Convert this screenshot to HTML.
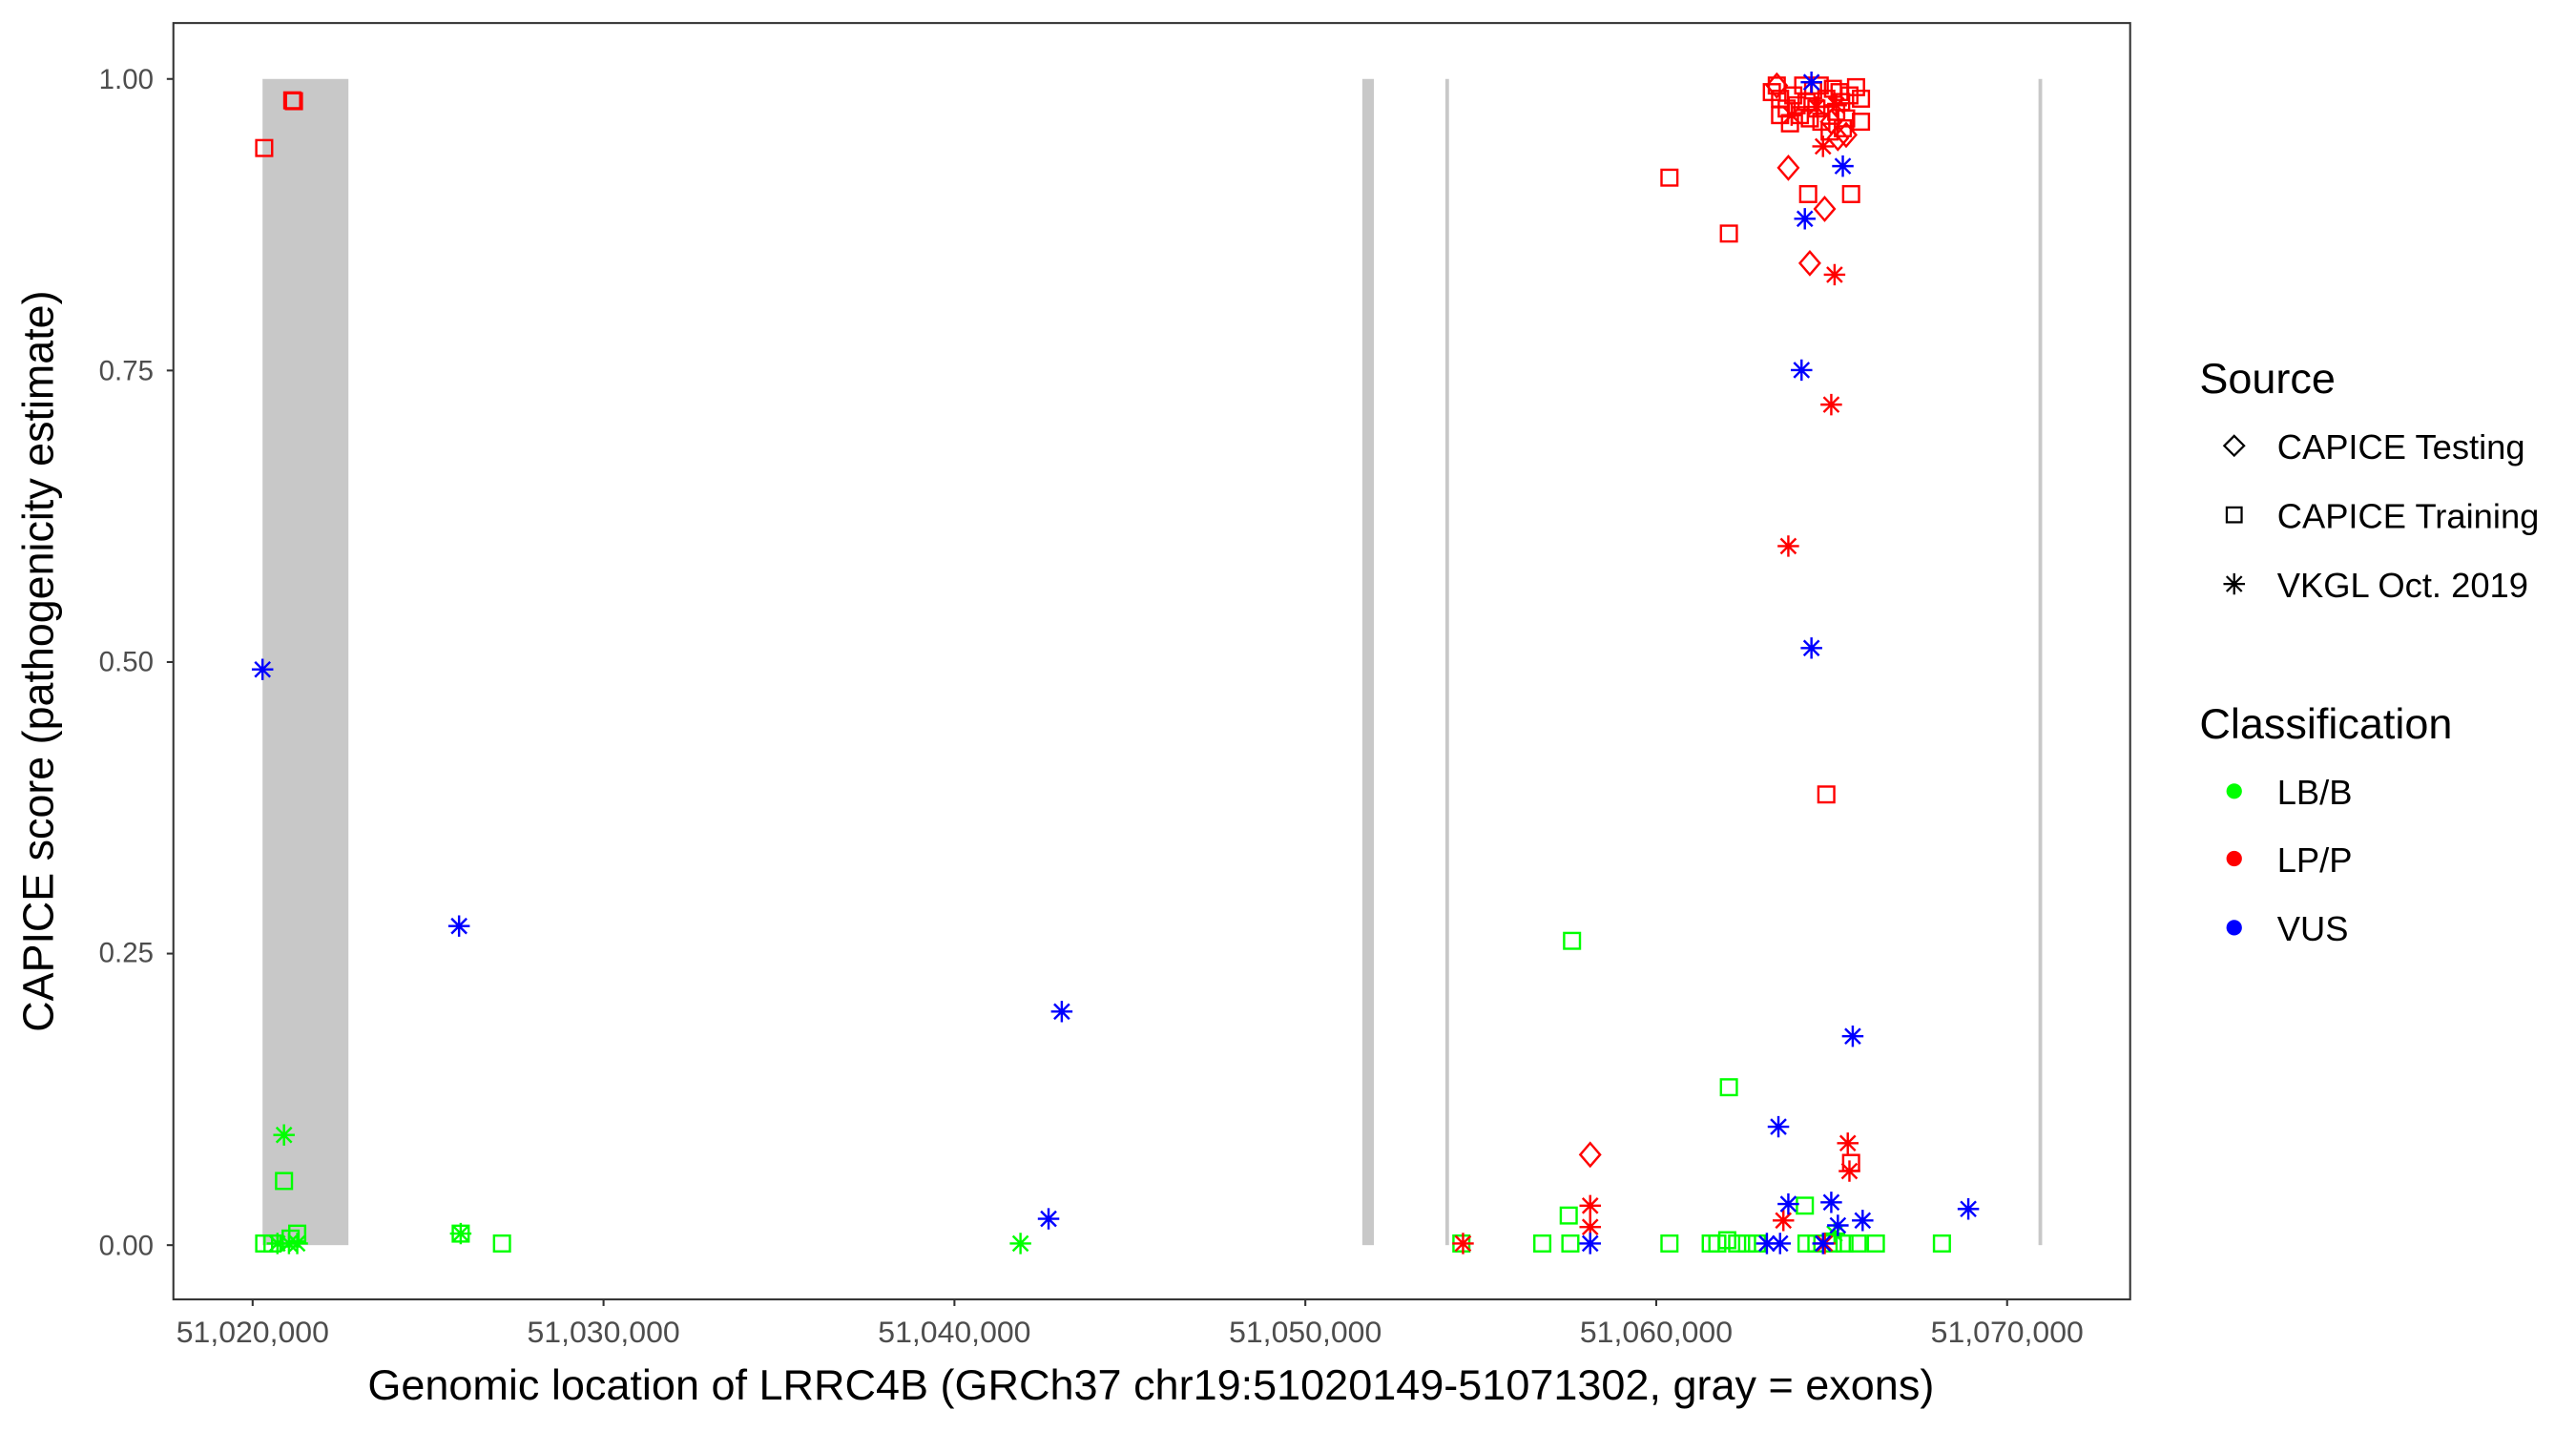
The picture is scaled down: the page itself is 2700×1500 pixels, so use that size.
<!DOCTYPE html>
<html><head><meta charset="utf-8"><style>
html,body{margin:0;padding:0;background:#fff;}
svg{display:block;}
text{font-family:"Liberation Sans",Arial,sans-serif;}
</style></head><body>
<svg width="2700" height="1500" viewBox="0 0 1560 870" preserveAspectRatio="none" xmlns="http://www.w3.org/2000/svg">
<defs>
<rect id="sq" x="-4.8" y="-4.8" width="9.6" height="9.6"/>
<path id="di" d="M0,-7 L6,0 L0,7 L-6,0Z"/>
<path id="as" d="M-6.5,0H6.5M0,-6.5V6.5M-4.6,-4.6L4.6,4.6M-4.6,4.6L4.6,-4.6"/>
</defs>
<rect x="0" y="0" width="1560" height="870" fill="#fff"/>
<rect x="159" y="48" width="52" height="709" fill="#c8c8c8"/>
<rect x="825" y="48" width="7" height="709" fill="#c8c8c8"/>
<rect x="875.3" y="48" width="2.2" height="709" fill="#c8c8c8"/>
<rect x="1234.5" y="48" width="2.2" height="709" fill="#c8c8c8"/>
<rect x="105" y="14" width="1185" height="776" fill="none" stroke="#333" stroke-width="1.2"/>
<g stroke="#333" stroke-width="1.2">
<line x1="101" y1="48" x2="105" y2="48"/><line x1="101" y1="225.25" x2="105" y2="225.25"/>
<line x1="101" y1="402.5" x2="105" y2="402.5"/><line x1="101" y1="579.75" x2="105" y2="579.75"/>
<line x1="101" y1="757" x2="105" y2="757"/>
<line x1="153" y1="790" x2="153" y2="794"/><line x1="365.5" y1="790" x2="365.5" y2="794"/>
<line x1="578" y1="790" x2="578" y2="794"/><line x1="790.5" y1="790" x2="790.5" y2="794"/>
<line x1="1003" y1="790" x2="1003" y2="794"/><line x1="1215.5" y1="790" x2="1215.5" y2="794"/>
</g>
<g fill="#4d4d4d" font-size="17" text-anchor="end">
<text x="93" y="54">1.00</text><text x="93" y="231">0.75</text><text x="93" y="408">0.50</text>
<text x="93" y="585">0.25</text><text x="93" y="763">0.00</text>
</g>
<g fill="#4d4d4d" font-size="18.5" text-anchor="middle">
<text x="153" y="816">51,020,000</text><text x="365.5" y="816">51,030,000</text>
<text x="578" y="816">51,040,000</text><text x="790.5" y="816">51,050,000</text>
<text x="1003" y="816">51,060,000</text><text x="1215.5" y="816">51,070,000</text>
</g>
<text x="697" y="851" font-size="26" text-anchor="middle" fill="#000">Genomic location of LRRC4B (GRCh37 chr19:51020149-51071302, gray = exons)</text>
<text transform="translate(32,402) rotate(-90)" font-size="26" text-anchor="middle" fill="#000">CAPICE score (pathogenicity estimate)</text>
<g fill="none" stroke-width="1.4">
<g stroke="#00ff00">
<use href="#sq" x="172" y="718"/><use href="#as" x="172" y="690"/>
<use href="#sq" x="160" y="756"/><use href="#sq" x="165" y="756"/><use href="#sq" x="176" y="753"/><use href="#sq" x="180" y="750"/>
<use href="#as" x="168" y="756"/><use href="#as" x="175" y="756"/><use href="#as" x="180" y="756"/>
<use href="#sq" x="279" y="750"/><use href="#as" x="279" y="750"/><use href="#sq" x="304" y="756"/>
<use href="#as" x="618" y="756"/>
<use href="#sq" x="952" y="572"/><use href="#sq" x="1047" y="661"/>
<use href="#sq" x="950" y="739"/><use href="#sq" x="1093" y="733"/>
<use href="#sq" x="885" y="756"/><use href="#sq" x="934" y="756"/><use href="#sq" x="951" y="756"/>
<use href="#sq" x="1011" y="756"/><use href="#sq" x="1036" y="756"/><use href="#sq" x="1040" y="756"/>
<use href="#sq" x="1046" y="754"/><use href="#sq" x="1052" y="756"/><use href="#sq" x="1058" y="756"/>
<use href="#sq" x="1064" y="756"/><use href="#sq" x="1094" y="756"/><use href="#sq" x="1100" y="756"/>
<use href="#sq" x="1110" y="756"/><use href="#sq" x="1117" y="756"/><use href="#sq" x="1125" y="756"/>
<use href="#sq" x="1136" y="756"/><use href="#sq" x="1176" y="756"/>
<use href="#as" x="1111" y="750"/>
</g>
<g stroke="#ff0000">
<use href="#sq" x="160" y="90"/><use href="#sq" x="177" y="61"/><use href="#sq" x="178" y="61.5"/>
<use href="#sq" x="1011" y="108"/><use href="#sq" x="1047" y="142"/><use href="#sq" x="1106" y="483"/>
<use href="#sq" x="1121" y="707"/>
<use href="#di" x="1083" y="102"/><use href="#di" x="1105" y="127"/><use href="#di" x="1096" y="160"/><use href="#di" x="963" y="702"/>
<use href="#as" x="1104" y="89"/><use href="#as" x="1111" y="167"/><use href="#as" x="1109" y="246"/><use href="#as" x="1083" y="332"/>
<use href="#as" x="1119" y="695"/><use href="#as" x="1120" y="712"/>
<use href="#as" x="963" y="733"/><use href="#as" x="963" y="746"/><use href="#as" x="886" y="756"/>
<use href="#as" x="1080" y="742"/><use href="#as" x="1105" y="756"/>
<use href="#sq" x="1076" y="52"/><use href="#sq" x="1078" y="60"/><use href="#sq" x="1082" y="66"/><use href="#sq" x="1086" y="58"/>
<use href="#sq" x="1090" y="70"/><use href="#sq" x="1094" y="62"/><use href="#sq" x="1098" y="55"/><use href="#sq" x="1100" y="66"/>
<use href="#sq" x="1103" y="74"/><use href="#sq" x="1106" y="60"/><use href="#sq" x="1110" y="54"/><use href="#sq" x="1112" y="68"/>
<use href="#sq" x="1115" y="62"/><use href="#sq" x="1118" y="72"/><use href="#sq" x="1120" y="58"/><use href="#sq" x="1124" y="53"/>
<use href="#sq" x="1127" y="60"/><use href="#sq" x="1127" y="74"/><use href="#sq" x="1084" y="75"/><use href="#sq" x="1092" y="52"/>
<use href="#sq" x="1108" y="80"/><use href="#sq" x="1095" y="118"/><use href="#sq" x="1121" y="118"/><use href="#sq" x="1073" y="56"/>
<use href="#sq" x="1078" y="70"/><use href="#sq" x="1102" y="52"/><use href="#sq" x="1114" y="56"/><use href="#sq" x="1116" y="78"/>
<use href="#sq" x="1088" y="64"/><use href="#sq" x="1096" y="72"/>
<use href="#di" x="1076" y="52"/><use href="#di" x="1113" y="84"/><use href="#di" x="1118" y="82"/><use href="#di" x="1109" y="74"/>
<use href="#as" x="1085" y="70"/><use href="#as" x="1100" y="65"/><use href="#as" x="1112" y="64"/>
</g>
<g stroke="#0000ff">
<use href="#as" x="159" y="407"/><use href="#as" x="278" y="563"/><use href="#as" x="643" y="615"/><use href="#as" x="635" y="741"/>
<use href="#as" x="1097" y="50"/><use href="#as" x="1116" y="101"/><use href="#as" x="1093" y="133"/><use href="#as" x="1091" y="225"/>
<use href="#as" x="1097" y="394"/><use href="#as" x="1077" y="685"/><use href="#as" x="1122" y="630"/><use href="#as" x="1192" y="735"/>
<use href="#as" x="1083" y="732"/><use href="#as" x="1109" y="731"/><use href="#as" x="1128" y="742"/><use href="#as" x="1113" y="745"/>
<use href="#as" x="1070" y="756"/><use href="#as" x="1078" y="756"/><use href="#as" x="1104" y="756"/><use href="#as" x="963" y="756"/>
</g>
</g>
<text x="1332" y="239" font-size="26" fill="#000">Source</text>
<g fill="none" stroke="#000" stroke-width="1.3">
<path d="M1353,265 L1359,271 L1353,277 L1347,271Z"/>
<rect x="1348.5" y="308.5" width="9" height="9"/>
<path d="M1346.5,355H1359.5M1353,348.5V361.5M1348.4,350.4L1357.6,359.6M1348.4,359.6L1357.6,350.4"/>
</g>
<g font-size="21" fill="#000">
<text x="1379" y="279">CAPICE Testing</text>
<text x="1379" y="321">CAPICE Training</text>
<text x="1379" y="363">VKGL Oct. 2019</text>
</g>
<text x="1332" y="449" font-size="26" fill="#000">Classification</text>
<circle cx="1353" cy="481" r="4.7" fill="#00ff00"/>
<circle cx="1353" cy="522" r="4.7" fill="#ff0000"/>
<circle cx="1353" cy="564" r="4.7" fill="#0000ff"/>
<g font-size="21" fill="#000">
<text x="1379" y="489">LB/B</text>
<text x="1379" y="530">LP/P</text>
<text x="1379" y="572">VUS</text>
</g>
</svg>
</body></html>
